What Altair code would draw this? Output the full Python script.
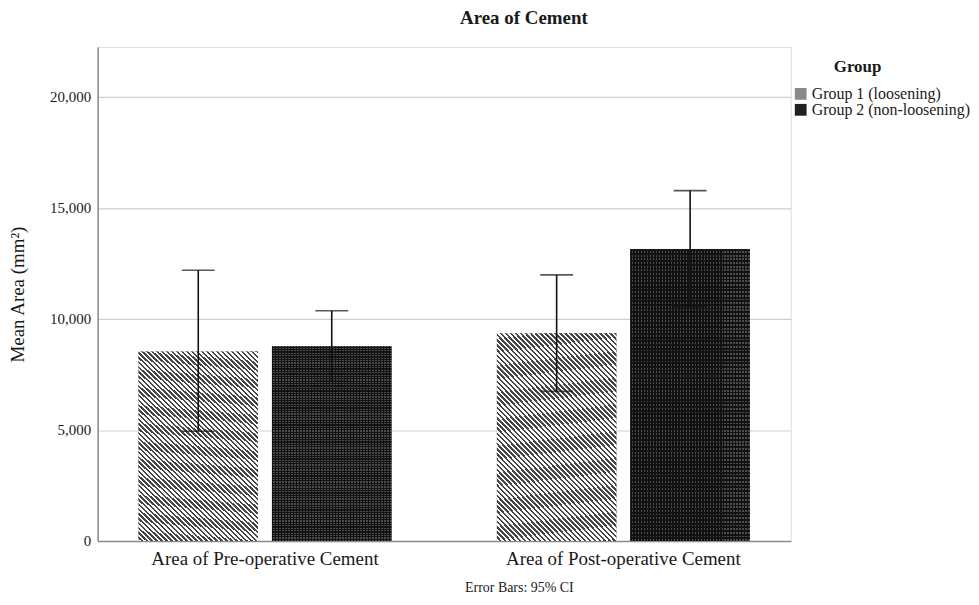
import altair as alt
import pandas as pd

# ---- data ----
categories = ["Area of Pre-operative Cement", "Area of Post-operative Cement"]
groups = ["Group 1 (loosening)", "Group 2 (non-loosening)"]
mean_g1 = [8534, 9359]
mean_g2 = [8758, 13139]
lower_g1 = [4946, 6740]
lower_g2 = [7206, 10552]
upper_g1 = [12197, 11987]
upper_g2 = [10372, 15785]
y_ticks = [0, 5000, 10000, 15000, 20000]

rows = []
for i, c in enumerate(categories):
    rows.append({"Category": c, "Group": groups[0], "Mean": mean_g1[i], "Lower": lower_g1[i], "Upper": upper_g1[i]})
    rows.append({"Category": c, "Group": groups[1], "Mean": mean_g2[i], "Lower": lower_g2[i], "Upper": upper_g2[i]})
df = pd.DataFrame(rows)

SERIF = "Liberation Serif"
TXT = "#1a1a1a"


def stripes(n, dark, light, x1, y1, x2, y2):
    stops = []
    for i in range(n):
        a, b, c = i / n, (i + 0.5) / n, (i + 1) / n
        stops += [
            alt.GradientStop(color=dark, offset=a),
            alt.GradientStop(color=dark, offset=b),
            alt.GradientStop(color=light, offset=b),
            alt.GradientStop(color=light, offset=c),
        ]
    return alt.LinearGradient(gradient="linear", stops=stops, x1=x1, y1=y1, x2=x2, y2=y2)


hatch = stripes(64, "#464646", "#ffffff", 1, 0, 0.294, 1.176)
dots_h = stripes(80, "#121212", "#4c4c4c", 0, 0, 0, 1)
dots_v = stripes(40, "#121212", "rgba(0,0,0,0)", 0, 0, 1, 0)

x_enc = alt.X(
    "Category:N",
    sort=categories,
    scale=alt.Scale(paddingInner=0.294, paddingOuter=0.114),
    axis=alt.Axis(
        title="Error Bars: 95% CI",
        titleFont=SERIF,
        titleFontSize=14,
        titleFontWeight="normal",
        titleColor=TXT,
        titleX=423,
        titleY=47,
        titleAlign="center",
        titleBaseline="middle",
        labelAngle=0,
        labelFont=SERIF,
        labelFontSize=19,
        labelColor=TXT,
        labelPadding=9,
        labelLimit=0,
        ticks=False,
        domainColor="#8a8a8a",
        domainWidth=1.5,
    ),
)
xo_enc = alt.XOffset("Group:N", sort=groups, scale=alt.Scale(paddingInner=0.1045, paddingOuter=0))
y_scale = alt.Scale(domain=[0, 22250], nice=False, zero=True)
y_enc = alt.Y(
    "Mean:Q",
    scale=y_scale,
    axis=alt.Axis(
        values=y_ticks,
        format=",.0f",
        title="Mean Area (mm²)",
        titleFont=SERIF,
        titleFontSize=19,
        titleFontWeight="normal",
        titleColor=TXT,
        titlePadding=22,
        labelFont=SERIF,
        labelFontSize=15,
        labelColor=TXT,
        labelPadding=7,
        ticks=False,
        grid=True,
        gridColor="#cfcfcf",
        gridWidth=1.2,
        domainColor="#8a8a8a",
        domainWidth=1.5,
    ),
)

base = alt.Chart(df)

bars = base.mark_bar().encode(
    x=x_enc,
    xOffset=xo_enc,
    y=y_enc,
    fill=alt.Fill(
        "Group:N",
        sort=groups,
        scale=alt.Scale(domain=groups, range=["#8a8a8a", "#202020"]),
        legend=alt.Legend(
            title="Group",
            orient="none",
            legendX=698,
            legendY=12,
            titleFont=SERIF,
            titleFontSize=17,
            titleFontWeight="bold",
            titleColor=TXT,
            titleAnchor="middle",
            titleAlign="right",
            titlePadding=10,
            labelFont=SERIF,
            labelFontSize=16,
            labelColor=TXT,
            labelOffset=3,
            labelLimit=0,
            symbolType="square",
            symbolSize=140,
            symbolStrokeWidth=0,
            rowPadding=0,
        ),
    ),
)

g1 = base.transform_filter(alt.datum.Group == groups[0]).mark_bar(fill=hatch).encode(
    x=alt.X("Category:N", sort=categories), xOffset=alt.XOffset("Group:N", sort=groups), y="Mean:Q"
)
g2a = base.transform_filter(alt.datum.Group == groups[1]).mark_bar(fill=dots_h).encode(
    x=alt.X("Category:N", sort=categories), xOffset=alt.XOffset("Group:N", sort=groups), y="Mean:Q"
)
g2b = base.transform_filter(alt.datum.Group == groups[1]).mark_bar(fill=dots_v).encode(
    x=alt.X("Category:N", sort=categories), xOffset=alt.XOffset("Group:N", sort=groups), y="Mean:Q"
)

whisk = base.mark_rule(color="#111111", strokeWidth=1.6).encode(
    x=alt.X("Category:N", sort=categories), xOffset=alt.XOffset("Group:N", sort=groups),
    y="Lower:Q", y2="Upper:Q"
)
cap_lo = base.mark_tick(color="#111111", thickness=1.6, size=33, orient="horizontal").encode(
    x=alt.X("Category:N", sort=categories), xOffset=alt.XOffset("Group:N", sort=groups), y="Lower:Q"
)
cap_hi = base.mark_tick(color="#111111", thickness=1.6, size=33, orient="horizontal").encode(
    x=alt.X("Category:N", sort=categories), xOffset=alt.XOffset("Group:N", sort=groups), y="Upper:Q"
)

chart = (
    alt.layer(bars, g1, g2a, g2b, whisk, cap_lo, cap_hi)
    .properties(
        width=696,
        height=496,
        title=alt.TitleParams(
            "Area of Cement",
            font=SERIF,
            fontSize=19,
            fontWeight="bold",
            color=TXT,
            anchor="middle",
            dx=80,
            offset=19,
        ),
        padding={"left": 0, "top": 0, "right": 0, "bottom": 5},
    )
    .configure_view(stroke=None)
    .configure(background="white")
)

chart.save("out.html", embed_options={"renderer": "svg", "actions": False})
